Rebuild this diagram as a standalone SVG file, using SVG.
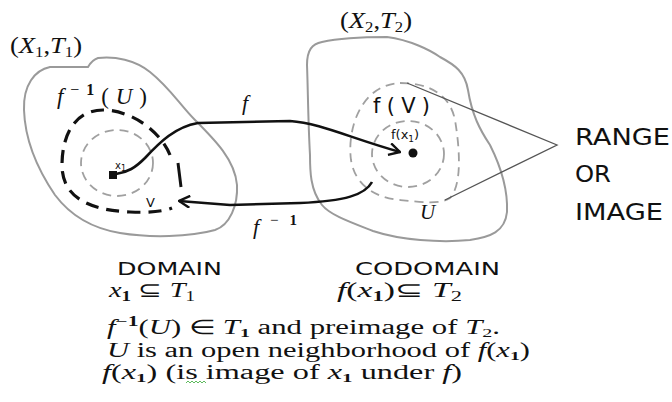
<svg xmlns="http://www.w3.org/2000/svg" width="672" height="402" viewBox="0 0 672 402">
<style>
.blob{fill:none;stroke:#9a9a9a;stroke-width:2}
.gdash{fill:none;stroke:#a0a0a0;stroke-width:1.8;stroke-dasharray:9 6}
.kdash{fill:none;stroke:#111;stroke-width:3.2;stroke-dasharray:13 8}
.arrow{fill:none;stroke:#111;stroke-width:2.6;stroke-linejoin:round}
.lead{fill:none;stroke:#555;stroke-width:1.3}
.m{font-family:"Liberation Serif","Times New Roman",serif;fill:#111}
.i{font-style:italic}
.h{font-family:"DejaVu Sans","Liberation Sans",sans-serif;fill:#111}
</style>
<defs>
<marker id="chev" viewBox="0 0 12 12" refX="11" refY="6" markerWidth="13" markerHeight="13" markerUnits="userSpaceOnUse" orient="auto">
<path d="M1,0.5 L11,6 L1,11.5" fill="none" stroke="#111" stroke-width="2.2"/>
</marker>
</defs>

<g id="domain">
<path class="blob" d="M50,67 L88,67 Q92,60 98,58 C115,56 135,60 150,72 C170,88 180,105 195,120 C215,140 235,160 237,185 C238,205 230,225 215,230 C190,237 150,238 120,233 C90,228 70,215 55,195 C38,170 25,140 24,110 C23,85 35,70 50,67 Z"/>
<path class="kdash" d="M170,155 C160,130 130,110 103,110 C75,110 62,135 62,165 C62,195 85,210 130,212 C150,213 165,211 172,208"/>
<path d="M178,163 L181,187" stroke="#111" stroke-width="3" fill="none"/>
<ellipse class="gdash" cx="117" cy="163" rx="36" ry="33"/>
<rect x="109" y="171" width="8" height="8" fill="#111"/>
<text class="h" x="115" y="169" font-size="10">x<tspan font-size="8" dy="2">1</tspan></text>
<text class="h" x="146" y="207" font-size="13">V</text>
<text class="m" x="10" y="53" font-size="24" textLength="72" lengthAdjust="spacingAndGlyphs">(<tspan class="i">X</tspan><tspan font-size="15" dy="4">1</tspan><tspan dy="-4">,</tspan><tspan class="i">T</tspan><tspan font-size="15" dy="4">1</tspan><tspan dy="-4">)</tspan></text>
<text class="m" x="57" y="104" font-size="23" fill="#333" textLength="90" lengthAdjust="spacing"><tspan class="i">f</tspan><tspan font-size="16" dy="-9">−</tspan><tspan font-size="16" font-weight="bold">1</tspan><tspan dy="9">(</tspan><tspan class="i">U</tspan>)</text>
</g>

<g id="codomain">
<path class="blob" d="M322,42 C340,38 370,37 387,37 C410,40 430,50 440,57 C455,65 465,72 468,90 C472,115 480,130 490,145 C500,165 508,190 507,212 C505,232 490,237 470,240 C440,243 400,240 373,231 C350,222 330,215 322,205 C310,190 310,170 310,155 C308,120 308,90 307,65 C307,50 312,44 322,42 Z"/>
<path class="gdash" d="M400,83 C430,83 450,95 455,120 C460,150 462,185 450,198 C440,205 420,202 400,200 C375,198 355,185 351,160 C347,130 360,85 400,83 Z"/>
<ellipse class="gdash" cx="408" cy="154" rx="36" ry="33"/>
<circle cx="413" cy="153" r="4.5" fill="#111"/>
<text class="h" x="373" y="113" font-size="21" textLength="57" lengthAdjust="spacing">f(V)</text>
<text class="h" x="391" y="139" font-size="13">f(x<tspan font-size="9" dy="3">1</tspan><tspan dy="-3">)</tspan></text>
<text class="m i" x="420" y="219" font-size="21">U</text>
<text class="m" x="340" y="28" font-size="24" textLength="72" lengthAdjust="spacingAndGlyphs">(<tspan class="i">X</tspan><tspan font-size="15" dy="4">2</tspan><tspan dy="-4">,</tspan><tspan class="i">T</tspan><tspan font-size="15" dy="4">2</tspan><tspan dy="-4">)</tspan></text>
</g>

<g id="range">
<path class="lead" d="M407,83 L557,145 L445,200"/>
<text class="h" x="575" y="145" font-size="23" textLength="95" lengthAdjust="spacingAndGlyphs">RANGE</text>
<text class="h" x="575" y="182" font-size="23" textLength="36" lengthAdjust="spacingAndGlyphs">OR</text>
<text class="h" x="575" y="220" font-size="23" textLength="88" lengthAdjust="spacingAndGlyphs">IMAGE</text>
</g>

<g id="connectors">
<path class="arrow" marker-end="url(#chev)" d="M116,174 C128,172 135,168 145,158 C160,142 175,127 198,123 L290,121 C320,123 350,138 400,152"/>
<path class="arrow" marker-end="url(#chev)" d="M372,182 C365,195 345,201 300,203 L230,205 L179,201"/>
<text class="m i" x="242" y="110" font-size="22">f</text>
<text class="m" x="253" y="234" font-size="22" textLength="44" lengthAdjust="spacing"><tspan class="i">f</tspan><tspan font-size="15" dy="-9">−</tspan><tspan font-size="15" font-weight="bold">1</tspan></text>
</g>

<g id="notes">
<text class="h" x="117" y="275" font-size="17" textLength="105" lengthAdjust="spacingAndGlyphs">DOMAIN</text>
<text class="h" x="355" y="275" font-size="17" textLength="145" lengthAdjust="spacingAndGlyphs">CODOMAIN</text>
<text class="m" x="109" y="297" font-size="21" textLength="86" lengthAdjust="spacingAndGlyphs"><tspan class="i">x</tspan><tspan font-size="14" font-weight="bold" dy="4">1</tspan><tspan dy="-4"> ⊆ </tspan><tspan class="i">T</tspan><tspan font-size="14" dy="4">1</tspan></text>
<text class="m" x="337" y="297" font-size="21" textLength="125" lengthAdjust="spacingAndGlyphs"><tspan class="i">f</tspan>(<tspan class="i">x</tspan><tspan font-size="14" font-weight="bold" dy="4">1</tspan><tspan dy="-4">)⊆ </tspan><tspan class="i">T</tspan><tspan font-size="14" dy="4">2</tspan></text>
<text class="m" x="107" y="334" font-size="20" textLength="393" lengthAdjust="spacingAndGlyphs"><tspan class="i">f</tspan><tspan font-size="14" dy="-8">−</tspan><tspan font-size="14" font-weight="bold">1</tspan><tspan dy="8">(</tspan><tspan class="i">U</tspan>) ∈ <tspan class="i">T</tspan><tspan font-size="13" font-weight="bold" dy="3">1</tspan><tspan dy="-3"> and preimage of </tspan><tspan class="i">T</tspan><tspan font-size="13" dy="3">2</tspan><tspan dy="-3">.</tspan></text>
<text class="m" x="107" y="357" font-size="20" textLength="423" lengthAdjust="spacingAndGlyphs"><tspan class="i">U</tspan> is an open neighborhood of <tspan class="i">f</tspan>(<tspan class="i">x</tspan><tspan font-size="13" font-weight="bold" dy="3">1</tspan><tspan dy="-3">)</tspan></text>
<text class="m" x="102" y="379" font-size="20" textLength="360" lengthAdjust="spacingAndGlyphs"><tspan class="i">f</tspan>(<tspan class="i">x</tspan><tspan font-size="13" font-weight="bold" dy="3">1</tspan><tspan dy="-3">) (is image of </tspan><tspan class="i">x</tspan><tspan font-size="13" font-weight="bold" dy="3">1</tspan><tspan dy="-3"> under </tspan><tspan class="i">f</tspan>)</text>
<path d="M186,383 l2,-2 l2,2 l2,-2 l2,2 l2,-2 l2,2 l2,-2 l2,2 l2,-2 l2,2" fill="none" stroke="#3a3" stroke-width="0.8"/>
</g>
</svg>
